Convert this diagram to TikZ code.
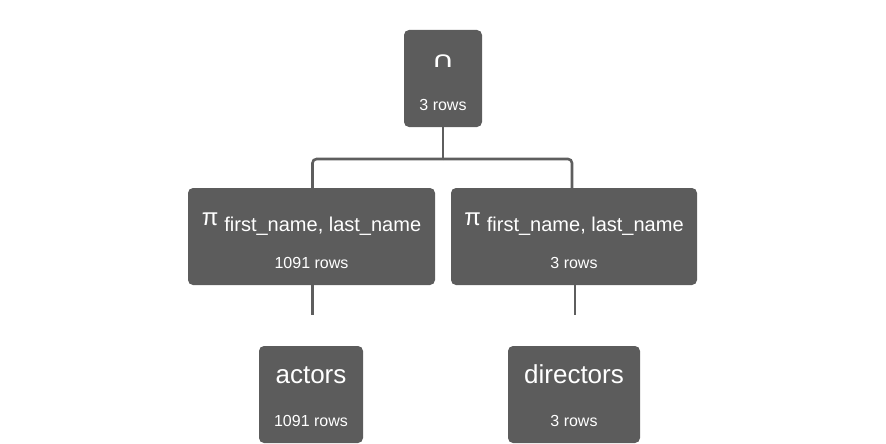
\documentclass[tikz,border=0pt]{standalone}
\usepackage{fontspec}
\setmainfont{Liberation Sans}
\newfontfamily\symfont{DejaVu Sans}
\definecolor{opfill}{RGB}{92,92,92}
\definecolor{edgegray}{RGB}{94,94,94}

\begin{document}
\begin{tikzpicture}[x=1pt, y=-1pt,
  op/.style={fill=opfill, rounded corners=5pt, text=white, inner sep=0pt, minimum height=97pt, text height=37pt, text depth=60pt, font=\fontsize{26}{30}\selectfont},
  rows/.style={anchor=base, yshift=17pt, text=white, inner sep=0pt, font=\fontsize{16}{19}\selectfont},
  link/.style={draw=edgegray, line width=2.6pt, rounded corners=4pt}]
  \useasboundingbox (0,0) rectangle (886,444);
  % intersection on top
  \node[op, minimum width=78pt, font=\symfont\fontsize{22}{26}\selectfont, label={[rows]south:3 rows}] (inter) at (443,78.5) {\scalebox{1.45}[1]{∩}};
  % the two projections
  \node[op, minimum width=247pt, font=\fontsize{20}{24}\selectfont, label={[rows]south:1091 rows}] (projA) at (311.5,236.5) {{\fontsize{24}{28}\selectfont π}\hspace{6pt}\raisebox{-6pt}{first\_name, last\_name}};
  \node[op, minimum width=246pt, font=\fontsize{20}{24}\selectfont, label={[rows]south:3 rows}] (projB) at (574,236.5) {{\fontsize{24}{28}\selectfont π}\hspace{6pt}\raisebox{-6pt}{first\_name, last\_name}};
  % base tables
  \node[op, minimum width=104pt, label={[rows]south:1091 rows}] (actors) at (311,394.5) {actors};
  \node[op, minimum width=132pt, label={[rows]south:3 rows}] (directors) at (574,394.5) {directors};
  \coordinate (fork) at (443,159);
  \coordinate (stubA) at (312.5,315);
  \coordinate (stubB) at (575,315);
  \draw[link] (inter.south) -- (fork);
  \draw[link] (fork) -| ([xshift=1pt]projA.north);
  \draw[link] (fork) -| ([xshift=-2pt]projB.north);
  \draw[link] ([xshift=1pt]projA.south) -- (stubA);
  \draw[link] ([xshift=1pt]projB.south) -- (stubB);
\end{tikzpicture}
\end{document}
